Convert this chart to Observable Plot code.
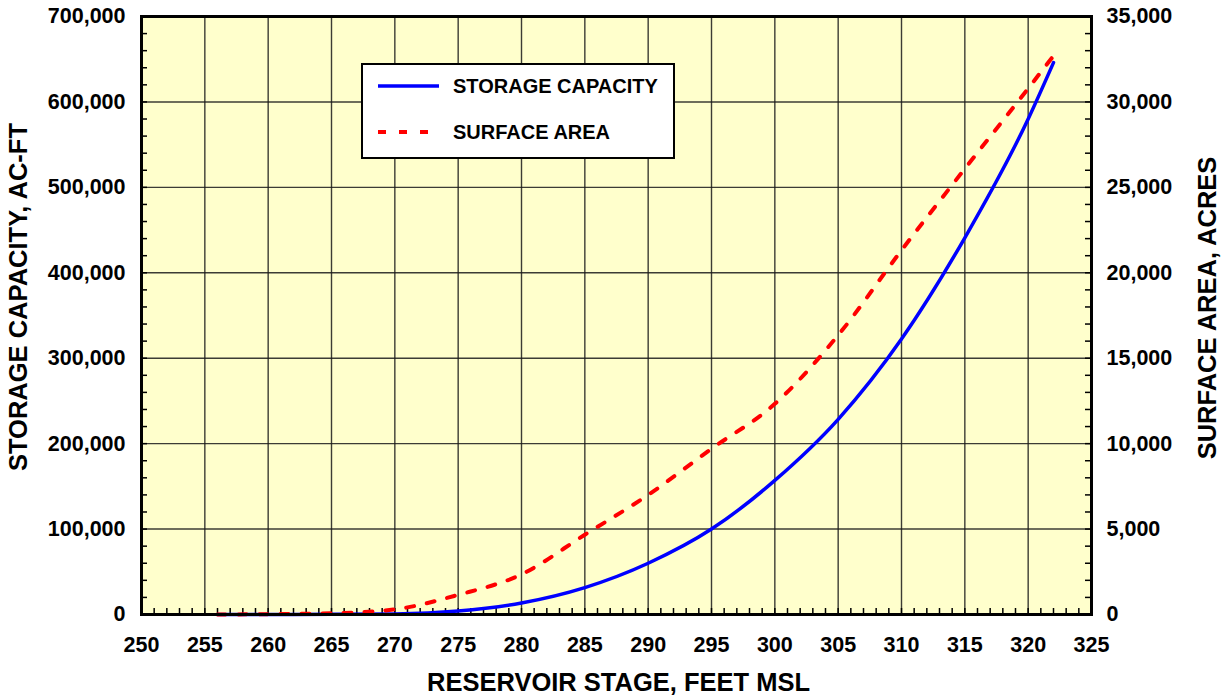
<!DOCTYPE html>
<html>
<head>
<meta charset="utf-8">
<script src="https://cdn.jsdelivr.net/npm/d3@7"></script>
<script src="https://cdn.jsdelivr.net/npm/@observablehq/plot@0.6"></script>
<style>
  html, body { margin: 0; padding: 0; background: #fff; }
  #wrap { position: relative; width: 1225px; height: 698px; font-family: "Liberation Sans", Arial, sans-serif; }
  #legend { position: absolute; left: 361px; top: 63px; width: 310px; height: 92px; background: #fff; border: 2px solid #000; }
</style>
</head>
<body>
<div id="wrap"><div id="chart"></div><div id="legend"></div></div>
<script>
// Reservoir stage (feet MSL)
const stages = [256, 260, 265, 270, 275, 280, 285, 290, 295, 300, 305, 310, 315, 320, 322];
// Storage capacity (AC-FT)
const storage = [0, 30, 150, 600, 4000, 13500, 31500, 60000, 100000, 157000, 228500, 322500, 441000, 580000, 646000];
// Surface area (acres)
const area = [0, 20, 70, 300, 1150, 2350, 4670, 7000, 9700, 12330, 16350, 21320, 26090, 30790, 32700];

const xTicks = [250, 255, 260, 265, 270, 275, 280, 285, 290, 295, 300, 305, 310, 315, 320, 325];
const leftTicks = [0, 100000, 200000, 300000, 400000, 500000, 600000, 700000];
const rightTicks = [0, 5000, 10000, 15000, 20000, 25000, 30000, 35000];
const seriesNames = ["STORAGE CAPACITY", "SURFACE AREA"];
const xTitle = "RESERVOIR STAGE, FEET MSL";
const leftTitle = "STORAGE CAPACITY, AC-FT";
const rightTitle = "SURFACE AREA, ACRES";

const ratio = 700000 / 35000; // right-axis to left-axis scale factor
const capData = stages.map((s, i) => ({stage: s, value: storage[i]}));
const areaData = stages.map((s, i) => ({stage: s, value: area[i] * ratio}));
const minorX = d3.range(250, 326, 1);
const minorLeft = d3.range(0, 700001, 20000);
const minorRight = d3.range(0, 35001, 1000).map(d => d * ratio);
const fmt = d3.format(",");

const W = 1225, H = 698;
const mL = 141, mR = 134, mT = 16, mB = 84;
const fw = W - mL - mR, fh = H - mT - mB;

const chart = Plot.plot({
  width: W, height: H,
  marginLeft: mL, marginRight: mR, marginTop: mT, marginBottom: mB,
  style: {fontFamily: "'Liberation Sans', Arial, sans-serif", fontWeight: "bold", color: "#000", background: "#fff", overflow: "visible"},
  x: {domain: [250, 325]},
  y: {domain: [0, 700000]},
  marks: [
    Plot.frame({fill: "#FFFFCC", stroke: null}),
    Plot.gridX(xTicks.slice(1, -1), {stroke: "#1a1a1a", strokeOpacity: 0.85, strokeWidth: 1.4}),
    Plot.gridY(leftTicks.slice(1, -1), {stroke: "#1a1a1a", strokeOpacity: 0.85, strokeWidth: 1.4}),
    Plot.tickX(minorX, {x: d => d, insetTop: fh - 6, stroke: "#000", strokeWidth: 1.5}),
    Plot.tickY(minorLeft, {y: d => d, insetRight: fw - 6, stroke: "#000", strokeWidth: 1.5}),
    Plot.tickY(minorRight, {y: d => d, insetLeft: fw - 6, stroke: "#000", strokeWidth: 1.5}),
    Plot.line(capData, {x: "stage", y: "value", stroke: "#0000FF", strokeWidth: 3.5, curve: "monotone-x"}),
    Plot.line(areaData, {x: "stage", y: "value", stroke: "#FF0000", strokeWidth: 4, strokeDasharray: "8,13", curve: "monotone-x"}),
    Plot.frame({stroke: "#000", strokeWidth: 3}),
    Plot.axisX(xTicks, {anchor: "bottom", tickSize: 0, tickPadding: 22, fontSize: 21.5, fontWeight: "bold", label: null}),
    Plot.axisY(leftTicks, {anchor: "left", tickSize: 0, tickPadding: 16, fontSize: 21.5, fontWeight: "bold", tickFormat: fmt, label: null}),
    Plot.axisY(leftTicks, {anchor: "right", tickSize: 0, tickPadding: 15, fontSize: 21.5, fontWeight: "bold", tickFormat: d => fmt(d / ratio), label: null}),
    Plot.text([xTitle], {text: d => d, frameAnchor: "bottom", dx: 2, dy: 76, fontSize: 25.5, fontWeight: "bold", lineAnchor: "bottom"})
  ]
});
document.getElementById("chart").appendChild(chart);

// Rotated axis titles
const svg = d3.select(chart);
const titles = [
  {text: leftTitle, x: 27, y: 297},
  {text: rightTitle, x: 1216, y: 308}
];
titles.forEach(t => {
  svg.append("text")
    .attr("transform", `translate(${t.x},${t.y}) rotate(-90)`)
    .attr("text-anchor", "middle")
    .attr("font-family", "'Liberation Sans', Arial, sans-serif")
    .attr("font-weight", "bold")
    .attr("font-size", 25.5)
    .attr("fill", "#000")
    .text(t.text);
});

// Legend
const lg = d3.select("#legend").append("svg").attr("width", 310).attr("height", 92)
  .style("font-family", "'Liberation Sans', Arial, sans-serif").style("font-weight", "bold");
const legendItems = [
  {name: seriesNames[0], color: "#0000FF", dash: null, w: 3.5, len: 61},
  {name: seriesNames[1], color: "#FF0000", dash: "8,13", w: 4, len: 54}
];
legendItems.forEach((d, i) => {
  const y = 21 + i * 46;
  lg.append("line").attr("x1", 15).attr("x2", 15 + d.len).attr("y1", y).attr("y2", y)
    .attr("stroke", d.color).attr("stroke-width", d.w).attr("stroke-dasharray", d.dash);
  lg.append("text").attr("x", 90).attr("y", y).attr("dy", "0.36em").attr("font-size", 20).text(d.name);
});
</script>
</body>
</html>
